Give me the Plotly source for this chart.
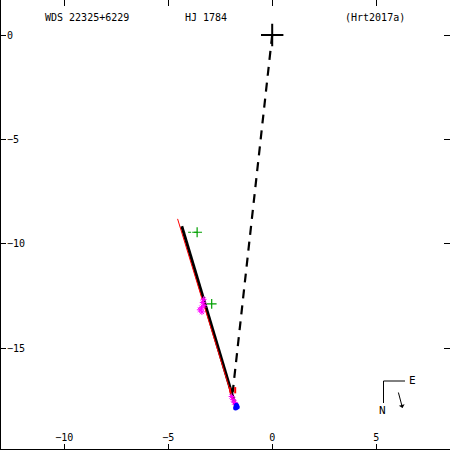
import plotly.graph_objects as go

# ---- data (arcsec) ----
orbit_x = [-4.35, -1.72]
orbit_y = [-9.15, -17.90]
fit_x = [-4.55, -1.80]
fit_y = [-8.80, -17.75]
node_x = [0.0, -1.90]
node_y = [0.0, -17.10]
green_x = [-3.61, -2.91]
green_y = [-9.44, -12.87]
green_res_x = [-3.61, -4.20]
green_res_y = [-9.44, -9.44]
star_x = [-3.30, -3.34, -3.28, -3.40, -3.48, -3.38, -1.95, -1.88, -1.82, -1.76]
star_y = [-12.65, -12.80, -12.95, -13.05, -13.15, -13.25, -17.30, -17.45, -17.58, -17.68]
blue_x = [-1.72, -1.76, -1.68]
blue_y = [-17.72, -17.85, -17.80]
red_res_x = [-2.05, -2.00, None, -1.78, -1.78]
red_res_y = [-16.85, -17.15, None, -16.85, -17.15]
x_ticks = [-10, -5, 0, 5]
y_ticks = [0, -5, -10, -15]
title_left = "WDS 22325+6229"
title_mid = "HJ 1784"
title_right = "(Hrt2017a)"

FONT = "DejaVu Sans Mono"
fig = go.Figure()

fig.add_trace(go.Scatter(x=node_x, y=node_y, mode="lines",
                         line=dict(color="black", width=2.2, dash="9px,7px")))
fig.add_trace(go.Scatter(x=orbit_x, y=orbit_y, mode="lines",
                         line=dict(color="black", width=3)))
fig.add_trace(go.Scatter(x=fit_x, y=fit_y, mode="lines",
                         line=dict(color="red", width=1)))
fig.add_trace(go.Scatter(x=red_res_x, y=red_res_y, mode="lines",
                         line=dict(color="red", width=2)))
fig.add_trace(go.Scatter(x=green_res_x, y=green_res_y, mode="lines",
                         line=dict(color="#00a000", width=1, dash="dot")))
fig.add_trace(go.Scatter(x=green_x, y=green_y, mode="markers",
                         marker=dict(symbol="cross-thin", size=7,
                                     line=dict(color="#00a000", width=1.2))))
fig.add_trace(go.Scatter(x=star_x, y=star_y, mode="markers",
                         marker=dict(symbol="asterisk", size=5,
                                     line=dict(color="magenta", width=1))))
fig.add_trace(go.Scatter(x=blue_x, y=blue_y, mode="markers",
                         marker=dict(symbol="circle", size=5, color="blue")))
fig.add_trace(go.Scatter(x=[0], y=[0], mode="markers",
                         marker=dict(symbol="cross-thin", size=16,
                                     line=dict(color="black", width=2))))
# mirror-tick helper traces
fig.add_trace(go.Scatter(x=[0], y=[0], xaxis="x2", yaxis="y2", mode="markers",
                         marker=dict(opacity=0), hoverinfo="skip"))

xr = [-13.09, 8.55]
yr = [-19.86, 1.675]
common = dict(ticks="inside", ticklen=6, tickcolor="black", tickwidth=1,
              showgrid=False, zeroline=False, showline=False)
fig.update_layout(
    width=450, height=450, margin=dict(l=0, r=0, t=0, b=0),
    paper_bgcolor="white", plot_bgcolor="white", showlegend=False,
    font=dict(family=FONT, size=10, color="black"),
    xaxis=dict(range=xr, tickvals=x_ticks, ticktext=[str(v).replace("-", "−") for v in x_ticks],
               ticklabelposition="inside", tickfont=dict(color="black"), **common),
    yaxis=dict(range=yr, tickvals=y_ticks, ticktext=[str(v).replace("-", "−") for v in y_ticks],
               ticklabelposition="inside", tickfont=dict(color="black"), **common),
    xaxis2=dict(range=xr, overlaying="x", side="top", tickvals=x_ticks,
                showticklabels=False, **common),
    yaxis2=dict(range=yr, overlaying="y", side="right", tickvals=y_ticks,
                showticklabels=False, **common),
)

def px(x):
    return x / 450.0

def py(y):
    return 1 - y / 450.0

# frame: left and bottom border
fig.add_shape(type="line", xref="paper", yref="paper", x0=px(0.5), y0=py(0), x1=px(0.5), y1=py(449.5),
              line=dict(color="black", width=1))
fig.add_shape(type="line", xref="paper", yref="paper", x0=px(0), y0=py(449.5), x1=px(450), y1=py(449.5),
              line=dict(color="black", width=1))

for txt, x in [(title_left, 86.5), (title_mid, 206), (title_right, 374.5)]:
    fig.add_annotation(text=txt, x=px(x), y=py(17), xref="paper", yref="paper",
                       xanchor="center", yanchor="middle",
                       showarrow=False, font=dict(family=FONT, size=10))

# compass
fig.add_shape(type="line", xref="paper", yref="paper", x0=px(383.5), y0=py(381), x1=px(405), y1=py(381),
              line=dict(color="black", width=1))
fig.add_shape(type="line", xref="paper", yref="paper", x0=px(383.5), y0=py(381), x1=px(383.5), y1=py(403),
              line=dict(color="black", width=1))
fig.add_annotation(text="E", x=px(412.5), y=py(380), xref="paper", yref="paper",
                   xanchor="center", yanchor="middle",
                   showarrow=False, font=dict(family=FONT, size=11))
fig.add_annotation(text="N", x=px(382.5), y=py(410.5), xref="paper", yref="paper",
                   xanchor="center", yanchor="middle",
                   showarrow=False, font=dict(family=FONT, size=11))
fig.add_annotation(x=px(402.5), y=py(408), ax=-4.5, ay=-17, xref="paper", yref="paper",
                   axref="pixel", ayref="pixel", showarrow=True, arrowhead=1, arrowsize=1,
                   arrowwidth=1, arrowcolor="black", text="")

fig.write_html("out.html", config={"displayModeBar": False},
               post_script="document.body.style.margin='0';")
